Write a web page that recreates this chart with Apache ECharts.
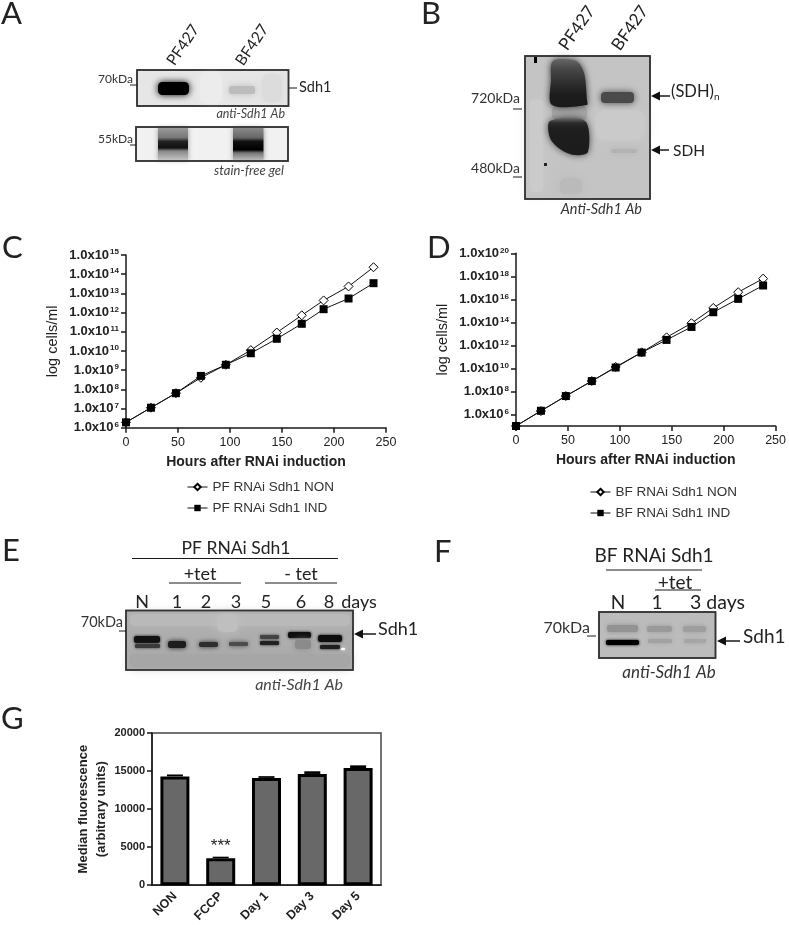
<!DOCTYPE html>
<html>
<head>
<meta charset="utf-8">
<style>
html, body { margin: 0; padding: 0; background: #fff; }
#chart { width: 789px; height: 925px; filter: blur(0.5px); }
</style>
<script src="https://cdn.jsdelivr.net/npm/echarts@6/dist/echarts.min.js"></script>
</head>
<body>
<div id="chart"></div>
<script>
// growth curves
const hoursC = [0, 24, 48, 72, 96, 120, 145, 169, 190, 214, 238]
const pfNon = [1.9e6, 1.1e7, 6.3e7, 4e8, 1.9e9, 1.1e10, 9.1e10, 7.2e11, 4.3e12, 2.3e13, 2.3e14]
const pfInd = [1.9e6, 1.1e7, 6.3e7, 5e8, 1.9e9, 7.6e9, 4.3e10, 2.6e11, 1.5e12, 5.4e12, 3.4e13]
const hoursD = [0, 24, 48, 73, 96, 121, 145, 169, 190, 214, 238]
const bfNon = [1e5, 2e6, 4e7, 8e8, 1.35e10, 2.5e11, 5e12, 8.5e13, 1.8e15, 4.2e16, 6.3e17]
const bfInd = [1e5, 2.1e6, 4e7, 8e8, 1.2e10, 2.4e11, 3e12, 4e13, 7.6e14, 1.1e16, 1.6e17]
const ticksC = [1e6, 1e7, 1e8, 1e9, 1e10, 1e11, 1e12, 1e13, 1e14, 1e15]
const ticksD = [1e6, 1e8, 1e10, 1e12, 1e14, 1e16, 1e18, 1e20]

// membrane potential bars
const barCats = ['NON', 'FCCP', 'Day 1', 'Day 3', 'Day 5']
const barVals = [14300, 3550, 14100, 14620, 15400]
const barErrs = [250, 200, 230, 350, 350]
const barMarks = ['', '***', '', '', '']

const INK = '#1a1a1a'
const SANS = '"Liberation Sans", Arial, sans-serif'
const SLIDE = 'Lato, sans-serif'

// ---- drawing helpers for the blot photos and slide labels ----
const txt = (text, x, y, size, opt = {}) => ({
    type: 'text',
    x: x,
    y: y,
    rotation: (opt.rot || 0) * Math.PI / 180,
    z: 20,
    style: {
        text: text,
        fill: opt.color || '#222',
        font: `${opt.italic ? 'italic ' : ''}${size}px ${SLIDE}`,
        textAlign: opt.align || 'left',
        textVerticalAlign: 'middle'
    }
})
const line = (x1, y1, x2, y2, w = 1) => ({
    type: 'line',
    z: 18,
    shape: { x1, y1, x2, y2 },
    style: { stroke: INK, lineWidth: w }
})
const arrow = (tipX, y, endX) => [
    line(tipX + 6, y, endX, y, 1.5),
    {
        type: 'polygon',
        z: 18,
        shape: { points: [[tipX, y], [tipX + 9, y - 4.5], [tipX + 9, y + 4.5]] },
        style: { fill: '#111' }
    }
]
const frame = (x1, y1, x2, y2, fill, w = 1.5) => ({
    type: 'rect',
    z: 5,
    shape: { x: x1, y: y1, width: x2 - x1, height: y2 - y1 },
    style: { fill: fill, stroke: '#333', lineWidth: w }
})
const border = (x1, y1, x2, y2, w = 1.5) => ({
    type: 'rect',
    z: 15,
    shape: { x: x1, y: y1, width: x2 - x1, height: y2 - y1 },
    style: { fill: 'none', stroke: '#333', lineWidth: w }
})
const band = (x1, y1, x2, y2, color, blur = 3) => ({
    type: 'rect',
    z: 8,
    shape: { x: x1, y: y1, width: x2 - x1, height: y2 - y1, r: Math.min(y2 - y1, x2 - x1) / 3 },
    style: { fill: color, shadowBlur: blur, shadowColor: color }
})
const vertical = stops => ({
    type: 'linear', x: 0, y: 0, x2: 0, y2: 1,
    colorStops: stops.map(s => ({ offset: s[0], color: s[1] }))
})
const grad = (x1, y1, x2, y2, stops, blur = 4, halo = 'rgba(90,90,90,0.55)') => ({
    type: 'rect',
    z: 7,
    shape: { x: x1, y: y1, width: x2 - x1, height: y2 - y1 },
    style: { fill: vertical(stops), shadowBlur: blur, shadowColor: halo }
})
const blob = (points, fill, halo, blur = 3) => ({
    type: 'polygon',
    z: 8,
    shape: { points: points, smooth: 0.3 },
    style: { fill: fill, shadowBlur: blur, shadowColor: halo }
})

const panelA = [
    txt('A', 1, 14, 31),
    txt('PF427', 183, 45, 15.5, { rot: 56, align: 'center' }),
    txt('BF427', 252, 45, 15.5, { rot: 56, align: 'center' }),
    frame(137, 70, 288.5, 106, '#e6e6e6'),
    band(200, 72, 222, 104, '#ececec', 8),
    band(262, 74, 282, 102, '#dcdcdc', 8),
    band(158, 82, 189, 95, '#000', 7),
    band(229, 86, 255, 94, '#bcbcbc', 7),
    border(137, 70, 288.5, 106),
    txt('70kDa', 133, 79.5, 12, { align: 'right', color: '#333' }),
    line(130, 85, 137, 85),
    line(289, 88, 297, 88),
    txt('Sdh1', 299, 87, 14.5),
    txt('anti-Sdh1 Ab', 285, 113.5, 12.5, { align: 'right', italic: true, color: '#444' }),
    frame(136, 127, 288, 161, '#f1f1f1'),
    grad(158, 128, 188, 160, [[0, '#9a9a9a'], [0.3, '#777'], [0.42, '#222'], [0.62, '#111'], [0.72, '#888'], [1, '#c4c4c4']], 5),
    grad(233, 128, 263.5, 160, [[0, '#8a8a8a'], [0.3, '#666'], [0.42, '#111'], [0.68, '#000'], [0.78, '#777'], [1, '#bbb']], 5),
    border(136, 127, 288, 161),
    txt('55kDa', 133, 139, 12, { align: 'right', color: '#333' }),
    line(130, 145, 136, 145),
    txt('stain-free gel', 284, 171, 13, { align: 'right', italic: true, color: '#444' })
]

const panelB = [
    txt('B', 421, 14, 31),
    txt('PF427', 577, 28, 17, { rot: 55, align: 'center' }),
    txt('BF427', 630, 28, 17, { rot: 55, align: 'center' }),
    frame(525, 56, 650, 199, '#c4c4c4'),
    band(530, 100, 543, 192, '#cbcbcb', 12),
    band(560, 178, 582, 194, '#bababa', 10),
    band(595, 110, 645, 140, '#cacaca', 12),
    band(552, 106, 587, 120, '#a6a6a6', 6),
    blob([[553, 61], [576, 61], [584, 73], [587, 100], [587, 105], [552, 105], [551, 80]],
        vertical([[0, '#666'], [0.2, '#484848'], [0.5, '#2e2e2e'], [0.75, '#1c1c1c'], [1, '#1a1a1a']]), '#333', 7),
    blob([[550, 121], [585, 121], [588, 152], [574, 155], [560, 149], [550, 138]],
        vertical([[0, '#6e6e6e'], [0.14, '#2a2a2a'], [0.3, '#1e1e1e'], [1, '#1c1c1c']]), '#444', 7),
    band(601, 92, 634, 103, '#4a4a4a', 7),
    band(611, 149, 637, 153, '#b3b3b3', 7),
    { type: 'rect', z: 9, shape: { x: 534, y: 57, width: 3, height: 6 }, style: { fill: '#000' } },
    { type: 'rect', z: 9, shape: { x: 544, y: 163, width: 3, height: 3 }, style: { fill: '#222' } },
    border(525, 56, 650, 199),
    txt('720kDa', 520, 98, 14, { align: 'right', color: '#333' }),
    line(513, 109, 522, 109),
    txt('480kDa', 520, 168, 14, { align: 'right', color: '#333' }),
    line(513, 177, 522, 177),
    ...arrow(651, 96, 670),
    txt('(SDH)', 671, 91.5, 16.5),
    txt('n', 714, 97, 10),
    ...arrow(651, 150, 669),
    txt('SDH', 673, 151, 15.5),
    txt('Anti-Sdh1 Ab', 642, 209, 14.5, { align: 'right', italic: true, color: '#333' })
]

const panelE = [
    txt('E', 2, 551, 31),
    txt('PF RNAi Sdh1', 236, 548, 17.5, { align: 'center' }),
    line(132, 558.5, 338, 558.5),
    txt('+tet', 200, 574, 18, { align: 'center' }),
    line(169, 583, 241, 583),
    txt('- tet', 301, 574, 18, { align: 'center' }),
    line(265, 583, 337, 583),
    ...[['N', 142], ['1', 177], ['2', 206], ['3', 236], ['5', 266], ['6', 301], ['8', 329], ['days', 359]]
        .map(d => txt(d[0], d[1], 602, 18, { align: 'center' })),
    frame(126, 610.5, 353, 670, '#adadad'),
    band(130, 614, 350, 626, '#b9b9b9', 10),
    band(130, 654, 350, 667, '#a6a6a6', 10),
    band(217, 614, 238, 632, '#bfbfbf', 10),
    band(134, 636, 160, 643, '#111', 3),
    band(135, 644, 160, 648, '#3a3a3a', 3),
    band(168, 641, 186, 648, '#1e1e1e', 5),
    band(199, 642, 218, 647, '#2e2e2e', 5),
    band(229, 642, 248, 646, '#4c4c4c', 5),
    band(260, 635, 279, 639, '#444', 3),
    band(260, 641, 279, 645, '#222', 3),
    band(288, 632, 311, 638, '#0e0e0e', 3),
    band(295, 640, 311, 649, '#8a8a8a', 6),
    band(318, 635, 342, 642, '#0e0e0e', 3),
    band(320, 645, 340, 649, '#1e1e1e', 3),
    band(341, 648, 345, 650, '#fff', 3),
    border(126, 610.5, 353, 670),
    txt('70kDa', 123, 622, 14.5, { align: 'right', color: '#333' }),
    line(119, 631, 126, 631),
    ...arrow(354, 634, 376),
    txt('Sdh1', 378, 629, 18),
    txt('anti-Sdh1 Ab', 343, 685, 16, { align: 'right', italic: true, color: '#444' })
]

const panelF = [
    txt('F', 434, 552, 31),
    txt('BF RNAi Sdh1', 654, 556, 19, { align: 'center' }),
    line(606, 570, 702, 570),
    txt('+tet', 675, 583, 19, { align: 'center' }),
    line(655, 590, 701, 590),
    txt('N', 618, 603, 19, { align: 'center' }),
    txt('1', 657, 603, 19, { align: 'center' }),
    txt('3 days', 690, 603, 19.5),
    frame(599, 612, 715.5, 658, '#bcbcbc'),
    band(607, 625, 638, 632, '#939393', 5),
    band(647, 626, 672, 632, '#9a9a9a', 5),
    band(683, 626, 706, 632, '#9e9e9e', 5),
    band(606, 640, 639, 645, '#000', 3),
    band(648, 639, 672, 643, '#a2a2a2', 4),
    band(684, 639, 706, 643, '#a6a6a6', 4),
    border(599, 612, 715.5, 658),
    txt('70kDa', 590, 628, 16, { align: 'right', color: '#333' }),
    line(587, 636, 596, 636),
    ...arrow(717, 641, 740),
    txt('Sdh1', 743, 637, 19),
    txt('anti-Sdh1 Ab', 669, 673, 17, { align: 'center', italic: true, color: '#333' })
]

const panelLetters = [txt('C', 2, 248, 31), txt('D', 427, 248, 31), txt('G', 1, 719, 31)]

// ---- axis bits shared by the two growth plots ----
const expLabel = v => `{b|1.0x10}{s|${Math.round(Math.log10(v))}}`
const logY = (idx, min, max, ticks, gap) => ({
    type: 'log',
    gridIndex: idx,
    logBase: 10,
    min: min,
    max: max,
    name: 'log cells/ml',
    nameLocation: 'middle',
    nameGap: gap,
    nameTextStyle: { fontFamily: SANS, fontSize: 14.5, color: '#222' },
    splitLine: { show: false },
    axisLine: { show: true, lineStyle: { color: INK, width: 1.5 } },
    axisTick: { show: true, length: 5, customValues: ticks, lineStyle: { color: INK, width: 1.5 } },
    axisLabel: {
        customValues: ticks,
        margin: 7,
        formatter: expLabel,
        rich: {
            b: { fontFamily: SANS, fontSize: 13, fontWeight: 'bold', color: '#222' },
            s: { fontFamily: SANS, fontSize: 8, fontWeight: 'bold', color: '#222', verticalAlign: 'top', padding: [0, 0, 6, 1] }
        }
    }
})
const hoursX = idx => ({
    type: 'value',
    gridIndex: idx,
    min: 0,
    max: 250,
    interval: 50,
    name: 'Hours after RNAi induction',
    nameLocation: 'middle',
    nameGap: 27,
    nameTextStyle: { fontFamily: SANS, fontSize: 14, fontWeight: 'bold', color: '#222' },
    splitLine: { show: false },
    axisLine: { onZero: false, lineStyle: { color: INK, width: 1.5 } },
    axisTick: { length: 5, lineStyle: { color: INK, width: 1.5 } },
    axisLabel: { fontFamily: SANS, fontSize: 12.5, color: '#222', margin: 8 }
})
const curve = (name, idx, xs, ys, hollow) => ({
    name: name,
    type: 'line',
    xAxisIndex: idx,
    yAxisIndex: idx,
    data: xs.map((x, i) => [x, ys[i]]),
    symbol: hollow ? 'diamond' : 'rect',
    symbolSize: hollow ? 9 : 8,
    showSymbol: true,
    clip: false,
    animation: false,
    lineStyle: { color: '#111', width: 1 },
    itemStyle: { color: hollow ? '#fff' : '#000', borderColor: '#000', borderWidth: hollow ? 1 : 0 },
    z: hollow ? 3 : 4
})
const legendAt = (left, top, names) => ({
    left: left,
    top: top,
    orient: 'vertical',
    itemWidth: 20,
    itemHeight: 8,
    itemGap: 7,
    data: names,
    lineStyle: { width: 1 },
    textStyle: { fontFamily: SANS, fontSize: 13.5, color: '#333' }
})

const option = {
    animation: false,
    backgroundColor: '#fff',
    graphic: { elements: [...panelA, ...panelB, ...panelE, ...panelF, ...panelLetters] },
    legend: [
        legendAt(182, 475, ['PF RNAi Sdh1 NON', 'PF RNAi Sdh1 IND']),
        legendAt(585, 480, ['BF RNAi Sdh1 NON', 'BF RNAi Sdh1 IND'])
    ],
    grid: [
        { left: 126, top: 255, width: 260, height: 172.7 },
        { left: 516, top: 253.3, width: 260, height: 172.7 },
        { left: 152, top: 733, width: 229, height: 152.7, show: true, borderColor: '#444', borderWidth: 1.5 }
    ],
    xAxis: [
        hoursX(0),
        hoursX(1),
        {
            type: 'category',
            gridIndex: 2,
            data: barCats,
            axisTick: { alignWithLabel: true, length: 5, lineStyle: { color: INK, width: 1.5 } },
            axisLine: { lineStyle: { color: INK, width: 1.5 } },
            axisLabel: { rotate: 45, fontFamily: SANS, fontSize: 12.5, fontWeight: 'bold', color: '#222', margin: 9, interval: 0 }
        }
    ],
    yAxis: [
        logY(0, 1e6, 1.00001e15, ticksC, 66),
        logY(1, 1e5, 1.00001e20, ticksD, 66),
        {
            type: 'value',
            gridIndex: 2,
            min: 0,
            max: 20000,
            interval: 5000,
            name: 'Median fluorescence\n(arbitrary units)',
            nameLocation: 'middle',
            nameGap: 26,
            nameTextStyle: { fontFamily: SANS, fontSize: 13, fontWeight: 'bold', color: '#222', lineHeight: 18 },
            splitLine: { show: false },
            axisLine: { show: true, lineStyle: { color: INK, width: 1.5 } },
            axisTick: { show: true, length: 5, lineStyle: { color: INK, width: 1.5 } },
            axisLabel: { fontFamily: SANS, fontSize: 11, fontWeight: 'bold', color: '#222', margin: 7, formatter: v => String(v) }
        }
    ],
    series: [
        curve('PF RNAi Sdh1 NON', 0, hoursC, pfNon, true),
        curve('PF RNAi Sdh1 IND', 0, hoursC, pfInd, false),
        curve('BF RNAi Sdh1 NON', 1, hoursD, bfNon, true),
        curve('BF RNAi Sdh1 IND', 1, hoursD, bfInd, false),
        {
            type: 'bar',
            xAxisIndex: 2,
            yAxisIndex: 2,
            data: barVals,
            barWidth: 29,
            itemStyle: { color: '#686868', borderColor: '#000', borderWidth: 3 },
            label: {
                show: true,
                position: 'top',
                distance: 3,
                formatter: p => barMarks[p.dataIndex],
                fontFamily: SANS,
                fontSize: 17,
                color: '#222'
            },
            z: 2
        },
        {
            // error bar caps, GraphPad style
            type: 'custom',
            xAxisIndex: 2,
            yAxisIndex: 2,
            data: barVals.map((v, i) => [i, v + barErrs[i]]),
            z: 3,
            renderItem(params, api) {
                const top = api.coord([api.value(0), api.value(1)])
                const base = api.coord([api.value(0), barVals[params.dataIndex]])
                return {
                    type: 'rect',
                    shape: { x: top[0] - 8, y: top[1], width: 16, height: base[1] - top[1] },
                    style: { fill: '#000' }
                }
            }
        }
    ]
}

const chart = echarts.init(document.getElementById('chart'))
chart.setOption(option)
</script>
</body>
</html>
